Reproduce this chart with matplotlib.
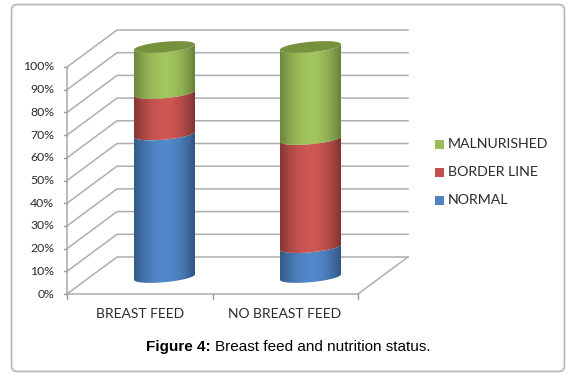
import matplotlib
matplotlib.use("Agg")
import matplotlib.pyplot as plt
import numpy as np
from matplotlib.colors import LinearSegmentedColormap
from matplotlib.patches import FancyBboxPatch, Polygon, Rectangle

categories = ["BREAST FEED", "NO BREAST FEED"]
series_names = ["NORMAL", "BORDER LINE", "MALNURISHED"]
normal = [62, 13]
border_line = [18, 47]
malnourished = [20, 40]
y_ticks = [0, 10, 20, 30, 40, 50, 60, 70, 80, 90, 100]

# colours: edge, centre
shades = [("#2f5581", "#5389cb"), ("#7f3331", "#cf5855"), ("#66803a", "#a3c65f")]
legend_colors = ["#4f81bd", "#c0504d", "#9bbb59"]
cap_color = "#76923c"
grid_color = "#aeaeae"
text_color = "#2b2b2b"

# oblique frame, in figure pixels
x0, x1 = 67, 358
y_zero, y_full = 294, 67
dx, dy = 50, -37

# cylinders
bar_left = [134, 280]
label_x = [140.5, 285]
bar_w = 61
base_y = 277
unit = 2.3
tilt = -0.09
b = 5.2


def front(v):
    return y_zero + (y_full - y_zero) * v / 100


def rim(cx, level, lower=True):
    t = np.linspace(np.pi, 0, 60)
    xs = cx + bar_w / 2 * np.cos(t)
    ys = level + (b if lower else -b) * np.sin(t) + tilt * (xs - cx)
    return xs, ys


fig = plt.figure(figsize=(5.76, 3.76), dpi=100)
ax = fig.add_axes([0, 0, 1, 1])
ax.set_xlim(0, 576)
ax.set_ylim(376, 0)
ax.axis("off")

ax.add_patch(FancyBboxPatch((11.5, 4.5), 553, 367, boxstyle="round,pad=0,rounding_size=6",
                            fc="white", ec="#b5b5b5", lw=1.2))

# walls and floor
for v in y_ticks:
    y = front(v)
    ax.plot([x0, x0 + dx, x1 + dx], [y, y + dy, y + dy], color=grid_color, lw=1.1, zorder=1)
    ax.plot([x0 - 3, x0], [y, y], color="#999999", lw=1, zorder=1)
    ax.text(54, y, f"{v}%", ha="right", va="center", fontsize=8.8,
            family="Lato", color=text_color)
ax.plot([x0, x0], [y_full, y_zero], color="#aaaaaa", lw=1.1, zorder=1)
ax.plot([x0, x1, x1 + dx], [y_zero, y_zero, y_zero + dy], color=grid_color, lw=1.1, zorder=1)
for i in range(len(categories) + 1):
    x = x0 + (x1 - x0) * i / len(categories)
    ax.plot([x, x], [y_zero, y_zero + 5], color="#999999", lw=1, zorder=1)

# stacked cylinders
grad = np.array([0, 0.12, 0.3, 0.5, 0.62, 0.78, 0.92, 1.0])
prof = np.array([0.1, 0.45, 0.85, 1.0, 0.95, 0.7, 0.3, 0.0])
xg = np.linspace(0, 1, 200)
shade_line = np.interp(xg, grad, prof)[None, :]

for i in range(len(categories)):
    cx = bar_left[i] + bar_w / 2
    bottom = 0
    for values, (edge, centre) in zip([normal, border_line, malnourished], shades):
        v = values[i]
        lo_x, lo_y = rim(cx, base_y - unit * bottom)
        hi_x, hi_y = rim(cx, base_y - unit * (bottom + v))
        pts = np.vstack([np.column_stack([hi_x, hi_y]), np.column_stack([lo_x, lo_y])[::-1]])
        poly = Polygon(pts, closed=True, fc="none", ec="none", transform=ax.transData)
        ax.add_patch(poly)
        cmap = LinearSegmentedColormap.from_list("cyl", [edge, centre])
        im = ax.imshow(shade_line, cmap=cmap, vmin=0, vmax=1, aspect="auto", zorder=3,
                       extent=[cx - bar_w / 2, cx + bar_w / 2, pts[:, 1].max(), pts[:, 1].min()])
        im.set_clip_path(poly)
        bottom += v
    # top cap
    up_x, up_y = rim(cx, base_y - unit * bottom, lower=False)
    dn_x, dn_y = rim(cx, base_y - unit * bottom, lower=True)
    ax.add_patch(Polygon(np.vstack([np.column_stack([up_x, up_y]), np.column_stack([dn_x, dn_y])[::-1]]),
                         closed=True, fc=cap_color, ec="none", zorder=4))

ax.set_xlim(0, 576)
ax.set_ylim(376, 0)

# category labels
for name, x in zip(categories, label_x):
    ax.text(x, 313.5, name, ha="center", va="center", fontsize=10,
            family="Lato", color=text_color)

# legend
for name, color, y in zip(series_names, legend_colors, [200, 172, 144]):
    ax.add_patch(Rectangle((434.5, y - 4.5), 9.5, 9.5, fc=color, ec="none"))
    ax.text(448, y, name, ha="left", va="center", fontsize=10.2, family="Lato", color=text_color)

# caption
ax.text(146, 347, "Figure 4:", ha="left", va="center", fontsize=11, fontweight="bold",
        family="Liberation Sans", color="black")
ax.text(215, 347, "Breast feed and nutrition status.", ha="left", va="center", fontsize=11,
        family="Liberation Sans", color="black")

fig.savefig("out.png", dpi=100)
plt.close()
